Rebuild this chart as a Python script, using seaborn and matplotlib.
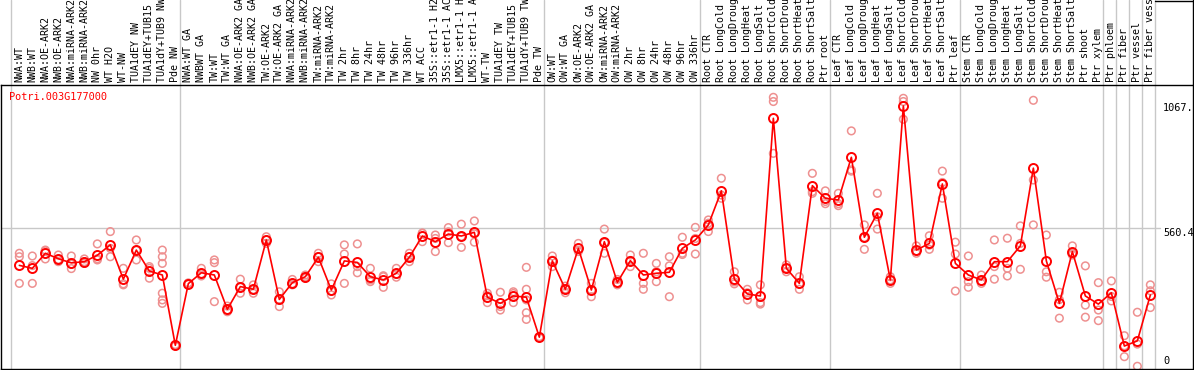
"""
Expression profile of one poplar gene across sample groups
(means joined by a line, single replicates as light open circles).
"""

import numpy as np
import pandas as pd
import matplotlib
matplotlib.use("Agg")
import matplotlib.pyplot as plt
import matplotlib.transforms as mtransforms
import seaborn as sns

GENE = "Potri.003G177000"

SAMPLES = [
    "NWA:WT", "NWB:WT", "NWA:OE-ARK2", "NWB:OE-ARK2", "NWA:miRNA-ARK2",
    "NWB:miRNA-ARK2", "NW 0hr", "WT H2O", "WT-NW", "TUA1dEY NW",
    "TUA1dEY+TUB15 NW", "TUA1dY+TUB9 NW", "Pde NW",
    "NWA:WT GA", "NWBWT GA", "TW:WT", "TW:WT GA", "NWA:OE-ARK2 GA",
    "NWB:OE-ARK2 GA", "TW:OE-ARK2", "TW:OE-ARK2 GA", "NWA:miRNA-ARK2 GA",
    "NWB:miRNA-ARK2 GA", "TW:miRNA-ARK2", "TW:miRNA-ARK2 GA", "TW 2hr",
    "TW 8hr", "TW 24hr", "TW 48hr", "TW 96hr", "TW 336hr", "WT ACC",
    "35S::etr1-1 H2O", "35S::etr1-1 ACC", "LMX5::etr1-1 H2O",
    "LMX5::etr1-1 ACC", "WT-TW", "TUA1dEY TW", "TUA1dEY+TUB15 TW",
    "TUA1dY+TUB9 TW", "Pde TW",
    "OW:WT", "OW:WT GA", "OW:OE-ARK2", "OW:OE-ARK2 GA", "OW:miRNA-ARK2",
    "OW:miRNA-ARK2 GA", "OW 2hr", "OW 8hr", "OW 24hr", "OW 48hr", "OW 96hr",
    "OW 336hr",
    "Root CTR", "Root LongCold", "Root LongDrought", "Root LongHeat",
    "Root LongSalt", "Root ShortCold", "Root ShortDrought", "Root ShortHeat",
    "Root ShortSalt", "Ptr root",
    "Leaf CTR", "Leaf LongCold", "Leaf LongDrought", "Leaf LongHeat",
    "Leaf LongSalt", "Leaf ShortCold", "Leaf ShortDrought", "Leaf ShortHeat",
    "Leaf ShortSalt", "Ptr leaf",
    "Stem CTR", "Stem LongCold", "Stem LongDrought", "Stem LongHeat",
    "Stem LongSalt", "Stem ShortCold", "Stem ShortDrought", "Stem ShortHeat",
    "Stem ShortSalt",
    "Ptr shoot", "Ptr xylem", "Ptr phloem", "Ptr fiber", "Ptr vessel",
    "Ptr fiber vessel",
]

MEANS = [
    409, 397, 458, 436, 419, 424, 450, 492, 353, 471, 386, 370, 85,
    335, 379, 370, 231, 323, 312, 512, 271, 339, 363, 442, 309, 427, 421,
    363, 350, 377, 442, 528, 505, 536, 528, 543, 280, 255, 285, 280, 118,
    427, 312, 478, 309, 505, 340, 428, 370, 377, 381, 478, 512,
    573, 711, 353, 293, 285, 1005, 397, 336, 732, 681,
    674, 847, 523, 620, 350, 1055, 471, 498, 739, 417,
    370, 350, 424, 424, 488, 803, 427, 255, 465,
    285, 252, 298, 82, 103, 289,
]

REPLICATES = [
    [458, 444, 336], [447, 336, 408], [471, 435, 468], [451, 424, 433],
    [447, 396, 414], [435, 424, 417], [496, 436, 431], [546, 478, 444],
    [397, 334, 330], [512, 431, 470], [397, 357, 404],
    [471, 444, 417, 296, 269, 255], [85, 88, 82],
    [335, 332, 338], [397, 366, 375], [431, 420, 262], [244, 221, 228],
    [353, 296, 320], [330, 296, 311], [525, 498, 512], [302, 242, 270],
    [352, 330, 335], [370, 357, 363], [458, 424, 444], [334, 289, 305],
    [492, 455, 336], [496, 404, 379], [397, 343, 350], [363, 320, 367],
    [397, 361, 373], [458, 424, 444], [539, 505, 540], [532, 465, 518],
    [562, 501, 545], [576, 482, 526], [589, 503, 537], [296, 258, 286],
    [300, 242, 228], [302, 258, 295], [401, 312, 269, 217, 190],
    [118, 120, 116],
    [447, 404, 430], [325, 298, 313], [498, 471, 465], [336, 282, 309],
    [556, 458, 501], [352, 330, 338], [451, 404, 429], [458, 336, 312],
    [417, 383, 343], [444, 407, 282], [523, 458, 453], [563, 455, 518],
    [593, 546, 580], [762, 694, 681], [383, 334, 342], [312, 269, 298],
    [330, 258, 252], [1090, 1073, 863], [411, 383, 397], [363, 312, 333],
    [782, 708, 701], [711, 668, 659],
    [701, 659, 651], [954, 796, 791], [573, 474, 522], [701, 606, 556],
    [363, 336, 350], [1086, 1073, 1001], [488, 458, 467], [529, 474, 491],
    [791, 681, 745], [503, 455, 305],
    [447, 343, 320], [370, 336, 344], [512, 404, 353], [519, 397, 366],
    [569, 498, 393], [1078, 755, 573], [532, 383, 361], [300, 195, 270],
    [488, 451, 456],
    [407, 248, 199], [339, 228, 185], [346, 265, 283], [124, 39, 83],
    [219, 0, 90], [330, 306, 238],
]

# last sample index of each block (a grey separator follows it)
GROUP_ENDS = [12, 40, 52, 62, 72, 83, 84, 85, 86, 87]

Y_MARKS = [1067.0, 560.4, 0.0]
Y_MARK_LABELS = ["1067.", "560.4", "0"]

W, H = 1194, 370
GRID = "#c8c8c8"


def main():
    sns.set_theme(style="white")
    plt.rcParams["font.family"] = ["DejaVu Sans Mono"]

    fig = plt.figure(figsize=(W / 100, H / 100), dpi=100)
    # plot box: x 1..1193 px, y 85..369 px (from top)
    ax = fig.add_axes([1 / W, (H - 369) / H, 1192 / W, 284 / H])
    ax.set_facecolor("white")

    idx = np.arange(len(SAMPLES))
    rep_df = pd.DataFrame(
        [(i, v) for i, reps in enumerate(REPLICATES) for v in reps],
        columns=["idx", "value"],
    )

    ax.set_xlim(-1.41, 90.28)
    ax.set_ylim(-11, 1140)
    top = 369 / 284  # axes fraction of the figure's top edge

    # separators
    ax.axvline(-0.66, ymin=0, ymax=top, color=GRID, lw=1, clip_on=False, zorder=0)
    for k in GROUP_ENDS:
        ax.axvline(k + 0.38, ymin=0, ymax=top, color=GRID, lw=1,
                   clip_on=False, zorder=0)
    ax.axhline(Y_MARKS[1], xmin=0, xmax=0.972, color=GRID, lw=1, zorder=0)

    sns.scatterplot(data=rep_df, x="idx", y="value", s=30, marker="o",
                    color="#ee9090", facecolor="none", edgecolor="#ee9090",
                    linewidth=1.1, ax=ax, zorder=2)
    sns.lineplot(x=idx, y=MEANS, color="#ff0000", lw=1.2, marker="o",
                 markersize=6.5, markerfacecolor="none",
                 markeredgecolor="#ff0000", markeredgewidth=1.4,
                 ax=ax, zorder=3)

    # sample names, vertical, above the plot box
    trans = mtransforms.blended_transform_factory(ax.transData, ax.transAxes)
    for i, name in enumerate(SAMPLES):
        ax.text(i, (369 - 82) / 284, name, transform=trans, rotation=90,
                ha="center", va="bottom", fontsize=7.2, color="black",
                clip_on=False)

    ax.text(0.007, (369 - 97) / 284, GENE, transform=ax.transAxes,
            ha="left", va="center", fontsize=7.4, color="red")

    ytrans = mtransforms.blended_transform_factory(ax.transAxes, ax.transData)
    for v, lab in zip(Y_MARKS, Y_MARK_LABELS):
        ax.text((1163 - 1) / 1192, v, lab, transform=ytrans, ha="left",
                va="bottom" if v == 0 else "top", fontsize=7.4, color="black")

    for s in ax.spines.values():
        s.set_visible(True)
        s.set_color("black")
        s.set_linewidth(1)
    ax.plot([1, 1], [1, top], transform=ax.transAxes, color="black", lw=1,
            clip_on=False)
    ax.plot([(1155 - 1) / 1192, 1], [top - 0.5 / 284] * 2,
            transform=ax.transAxes, color="black", lw=1, clip_on=False)

    ax.set_xticks([])
    ax.set_yticks([])
    ax.set_xlabel("")
    ax.set_ylabel("")

    fig.savefig("out.png", dpi=100)
    plt.close(fig)


if __name__ == "__main__":
    main()
